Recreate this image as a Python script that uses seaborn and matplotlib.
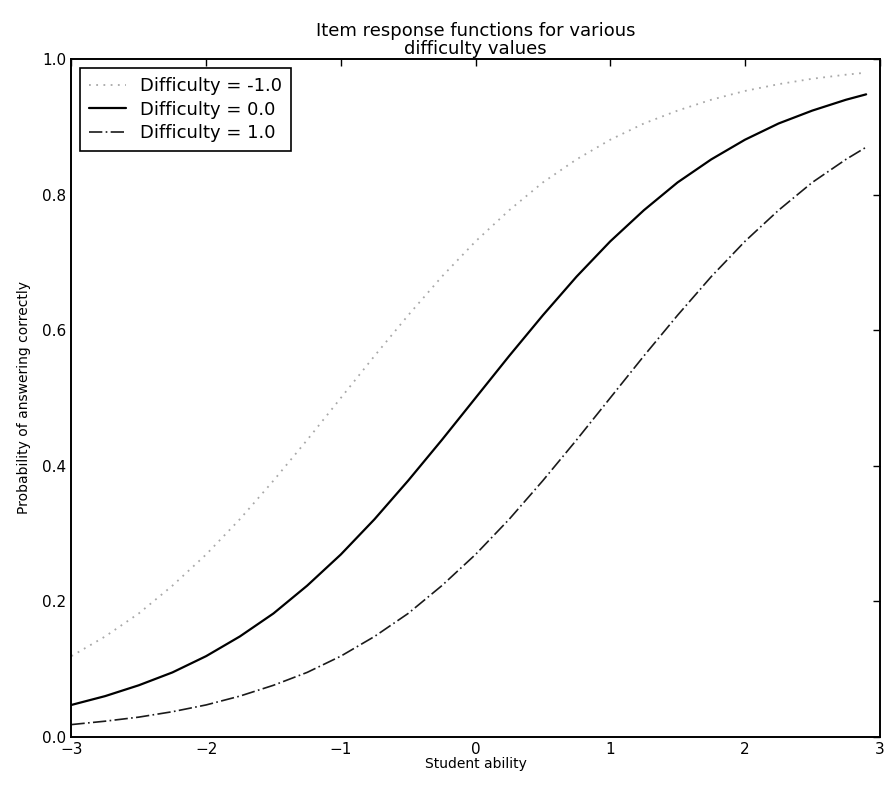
import matplotlib
matplotlib.use("Agg")
import matplotlib.pyplot as plt
import seaborn as sns
import pandas as pd

# Student ability values (x) and read-off probabilities for each difficulty
ability = [-3, -2.75, -2.5, -2.25, -2, -1.75, -1.5, -1.25, -1, -0.75, -0.5, -0.25,
           0, 0.25, 0.5, 0.75, 1, 1.25, 1.5, 1.75, 2, 2.25, 2.5, 2.75, 2.9]
p_diff_m1 = [0.119, 0.148, 0.182, 0.223, 0.269, 0.321, 0.378, 0.438, 0.500, 0.562,
             0.622, 0.679, 0.731, 0.777, 0.818, 0.852, 0.881, 0.905, 0.924, 0.940,
             0.953, 0.963, 0.971, 0.977, 0.980]
p_diff_0 = [0.047, 0.060, 0.076, 0.095, 0.119, 0.148, 0.182, 0.223, 0.269, 0.321,
            0.378, 0.438, 0.500, 0.562, 0.622, 0.679, 0.731, 0.777, 0.818, 0.852,
            0.881, 0.905, 0.924, 0.940, 0.948]
p_diff_1 = [0.018, 0.023, 0.029, 0.037, 0.047, 0.060, 0.076, 0.095, 0.119, 0.148,
            0.182, 0.223, 0.269, 0.321, 0.378, 0.438, 0.500, 0.562, 0.622, 0.679,
            0.731, 0.777, 0.818, 0.852, 0.870]
labels = ["Difficulty = -1.0", "Difficulty = 0.0", "Difficulty = 1.0"]
x_ticks = [-3, -2, -1, 0, 1, 2, 3]
y_ticks = [0.0, 0.2, 0.4, 0.6, 0.8, 1.0]

sns.set_style("white")
plt.rcParams['font.family'] = ['DejaVu Sans']
plt.rcParams['text.color'] = 'black'
plt.rcParams['axes.labelcolor'] = 'black'
plt.rcParams['xtick.color'] = 'black'
plt.rcParams['ytick.color'] = 'black'

fig = plt.figure(figsize=(8.93, 7.88), dpi=100)
ax = fig.add_axes([0.08, 0.065, 0.905, 0.86])

styles = [dict(color="#a8a8a8", linestyle=(0, (1, 3)), linewidth=1.3),
          dict(color="black", linestyle="-", linewidth=1.6),
          dict(color="#1a1a1a", linestyle=(0, (8, 2, 1, 2)), linewidth=1.2)]
for vals, lab, st in zip([p_diff_m1, p_diff_0, p_diff_1], labels, styles):
    df = pd.DataFrame({"ability": ability, "p": vals})
    sns.lineplot(data=df, x="ability", y="p", ax=ax, label=lab, **st)

ax.set_xlim(-3, 3)
ax.set_ylim(0, 1.0)
ax.set_xticks(x_ticks)
ax.set_xticklabels(["\u2212" + str(abs(t)) if t < 0 else str(t) for t in x_ticks])
ax.set_yticks(y_ticks)
ax.set_yticklabels([f"{t:.1f}" for t in y_ticks])
ax.tick_params(direction="in", top=True, right=True, length=5, width=1,
               labelsize=11, color="black", labelcolor="black")
for s in ax.spines.values():
    s.set_visible(True)
    s.set_color("black")
    s.set_linewidth(1.4)

ax.set_xlabel("Student ability", fontsize=10, labelpad=0)
ax.set_ylabel("Probability of answering correctly", fontsize=10, labelpad=8)
ax.set_title("Item response functions for various\ndifficulty values",
             fontsize=13, pad=4, linespacing=1.0)

leg = ax.legend(loc="upper left", fontsize=13, frameon=True, fancybox=False,
                edgecolor="black", handlelength=2.0, borderpad=0.5,
                labelspacing=0.3)
leg.get_frame().set_linewidth(1.2)
leg.get_frame().set_alpha(1)
for t in leg.get_texts():
    t.set_color("black")

fig.savefig("out.png", dpi=100, facecolor="white")
